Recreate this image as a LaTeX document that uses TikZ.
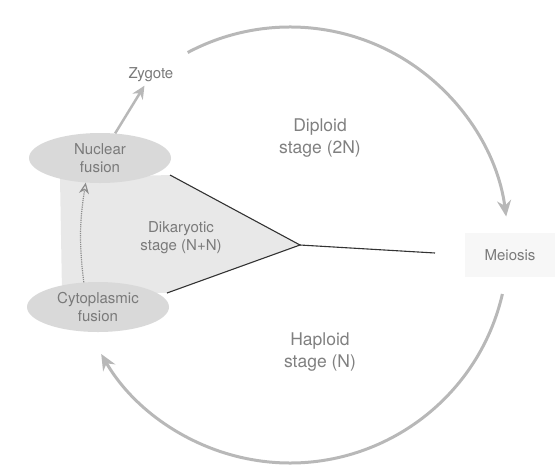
\documentclass[tikz,border=0pt]{standalone}
\usepackage{fontspec}
\setmainfont{TeX Gyre Heros}
\usepackage{xcolor}
\usepackage{tikz}
\usetikzlibrary{arrows.meta,positioning,shapes.geometric}

\begin{document}
\begin{tikzpicture}[x=1pt,y=-1pt,
    lbl/.style={text=black!52, font=\fontsize{15}{18}\selectfont, align=center},
    stg/.style={text=black!50, font=\fontsize{17.5}{22}\selectfont, align=center},
    ev/.style={ellipse, fill=black!15, minimum width=142pt, minimum height=50pt, inner sep=0pt},
    arr/.style={draw=black!28, line width=3pt, -{Stealth[length=16pt,width=14pt]}},
    garr/.style={draw=black!28, line width=2.5pt, -{Stealth[length=13pt,width=12pt]}},
    dotarr/.style={draw=black!45, densely dotted, line width=1.2pt, -{Stealth[length=11pt,width=10pt,open]}},
    ln/.style={draw=black!80, line width=1.1pt}
  ]
    \useasboundingbox (0,0) rectangle (555,475);
    \coordinate (apex) at (300,245);
    \coordinate (dktop) at (170,175);
    \coordinate (dkbot) at (167,293);
    \coordinate (meiend) at (435,253);
    \coordinate (dipstart) at (187.7,52.5);
    \coordinate (hapstart) at (502.4,294);
    % dikaryotic wedge
    \fill[black!9] (dktop) -- (apex) -- (dkbot) -- (62,292) -- (60,178) -- cycle;
    \node[ev, lbl] (nuc) at (100,158) {Nuclear\\fusion};
    \node[ev, lbl] (cyto) at (98,307) {Cytoplasmic\\fusion};
    \node[lbl] (zyg) at (151,75) {Zygote};
    \node[lbl, fill=black!3, minimum width=90pt, minimum height=44pt] (mei) at (510,255) {Meiosis};
    \node[lbl] (dik) at (181,238) {Dikaryotic\\stage (N+N)};
    \node[stg] (dip) at (320,138) {Diploid\\stage (2N)};
    \node[stg] (hap) at (320,352) {Haploid\\stage (N)};
    \draw[ln] (dktop) -- (apex) -- (dkbot);
    \draw[ln] (apex) -- (meiend);
    % life cycle
    \draw[arr] (dipstart) arc[start angle=-118, end angle=-7.5, radius=218];
    \draw[arr] (hapstart) arc[start angle=13, end angle=150, radius=218];
    \draw[garr] (nuc) -- (zyg);
    \draw[dotarr] (cyto.120) to[bend left=8] (nuc.240);
\end{tikzpicture}
\end{document}
